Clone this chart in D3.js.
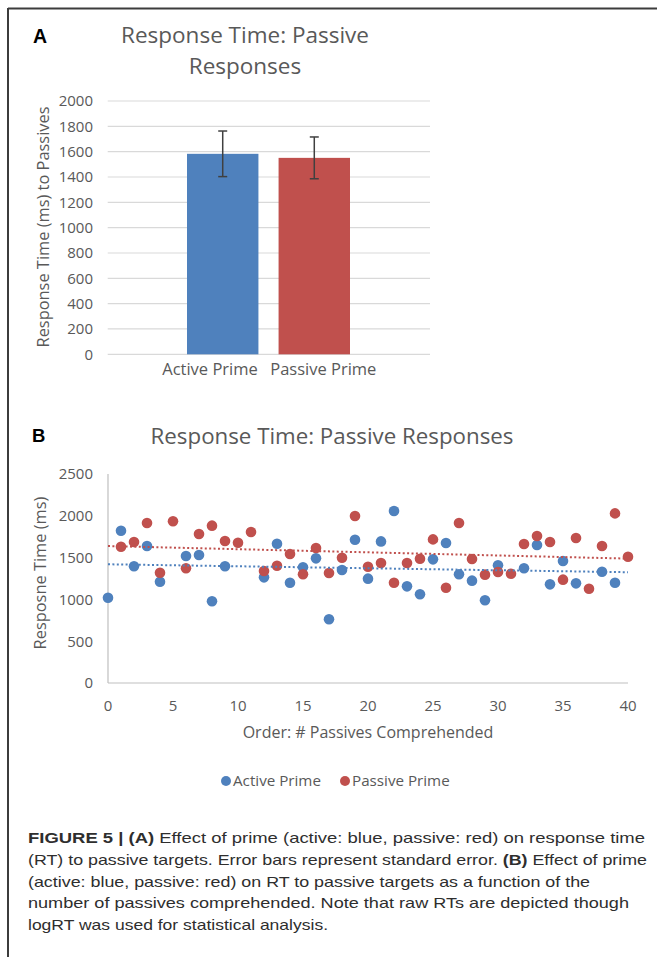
<!DOCTYPE html>
<html>
<head>
<meta charset="utf-8">
<script src="https://cdn.jsdelivr.net/npm/d3@7/dist/d3.min.js"></script>
<style>
  html, body { margin: 0; padding: 0; background: #fff; }
  svg { display: block; }
</style>
</head>
<body>
<div id="chart"></div>
<script>
// ---------- Panel A data ----------
const primeCategories = ["Active Prime", "Passive Prime"];
const meanRT = [1583, 1551];
const seRT = [180, 165];
const yTicksA = [0, 200, 400, 600, 800, 1000, 1200, 1400, 1600, 1800, 2000];

// ---------- Panel B data ----------
const order = [0,1,2,3,4,5,6,7,8,9,10,11,12,13,14,15,16,17,18,19,20,21,22,23,24,25,26,27,28,29,30,31,32,33,34,35,36,37,38,39,40];
const activeRT = [1020,1822,1396,1638,1212,null,1519,1531,977,1396,null,null,1264,1666,1200,1384,1491,762,1352,1714,1248,1694,2057,1156,1061,1479,1674,1300,1224,989,1408,null,1372,1650,1180,1459,1192,null,1331,1200,null];
const passiveRT = [null,1630,1686,1914,1319,1934,1372,1782,1882,1698,1678,1806,1339,1403,1543,1300,1615,1316,1499,1997,1391,1435,1200,1435,1487,1718,1140,1914,1483,1296,1327,1307,1662,1758,1686,1236,1734,1128,1638,2029,1511];
const trendX = [0, 40];
const activeTrend = [1420, 1325];
const passiveTrend = [1638, 1488];
const xTicksB = [0, 5, 10, 15, 20, 25, 30, 35, 40];
const yTicksB = [0, 500, 1000, 1500, 2000, 2500];
const seriesNames = ["Active Prime", "Passive Prime"];

const captionLines = [
  [["FIGURE 5 | (A)", true], [" Effect of prime (active: blue, passive: red) on response time", false]],
  [["(RT) to passive targets. Error bars represent standard error. ", false], ["(B)", true], [" Effect of prime", false]],
  [["(active: blue, passive: red) on RT to passive targets as a function of the", false]],
  [["number of passives comprehended. Note that raw RTs are depicted though", false]],
  [["logRT was used for statistical analysis.", false]]
];
const captionWidths = [617, 619, 562, 601, 300];

// ---------- Styles ----------
const BLUE = "#4f81bd", RED = "#c0504d";
const TXT = "#595959";
const FONT = "'Open Sans', 'Noto Sans', sans-serif";
const CAPFONT = "'Liberation Sans', Arial, sans-serif";

const svg = d3.select("#chart").append("svg")
  .attr("width", 657).attr("height", 957)
  .attr("viewBox", "0 0 657 957");

// frame (top + left)
svg.append("line").attr("x1", 8).attr("x2", 657).attr("y1", 8.5).attr("y2", 8.5)
  .attr("stroke", "#3c3c3c").attr("stroke-width", 2);
svg.append("line").attr("x1", 8).attr("x2", 8).attr("y1", 8).attr("y2", 957)
  .attr("stroke", "#3c3c3c").attr("stroke-width", 2);

// ================= Panel A =================
const gA = svg.append("g");
const yA = d3.scaleLinear().domain([0, 2000]).range([354.3, 101]);
const xA = d3.scaleBand().domain(primeCategories).range([187, 350]).paddingInner(0.22).paddingOuter(0);

gA.selectAll("line.grid").data(yTicksA).join("line")
  .attr("class", "grid")
  .attr("x1", 107.7).attr("x2", 430)
  .attr("y1", d => yA(d)).attr("y2", d => yA(d))
  .attr("stroke", "#d9d9d9").attr("stroke-width", 1.2);

gA.selectAll("text.ytick").data(yTicksA).join("text")
  .attr("class", "ytick")
  .attr("x", 93).attr("y", d => yA(d)).attr("dy", "0.36em")
  .attr("text-anchor", "end")
  .attr("font-family", FONT).attr("font-size", 15).attr("fill", TXT)
  .text(d => d);

gA.selectAll("rect.bar").data(primeCategories).join("rect")
  .attr("class", "bar")
  .attr("x", d => xA(d)).attr("width", xA.bandwidth())
  .attr("y", (d, i) => yA(meanRT[i]))
  .attr("height", (d, i) => yA(0) - yA(meanRT[i]))
  .attr("fill", (d, i) => i === 0 ? BLUE : RED);

// error bars
primeCategories.forEach((c, i) => {
  const cx = xA(c) + xA.bandwidth() / 2;
  const top = yA(meanRT[i] + seRT[i]), bot = yA(meanRT[i] - seRT[i]);
  gA.append("line").attr("x1", cx).attr("x2", cx).attr("y1", top).attr("y2", bot)
    .attr("stroke", "#404040").attr("stroke-width", 1.5);
  [top, bot].forEach(y => gA.append("line")
    .attr("x1", cx - 4.5).attr("x2", cx + 4.5).attr("y1", y).attr("y2", y)
    .attr("stroke", "#404040").attr("stroke-width", 1.5));
});

const labelShift = [-12.7, 9];
gA.selectAll("text.cat").data(primeCategories).join("text")
  .attr("class", "cat")
  .attr("x", (d, i) => xA(d) + xA.bandwidth() / 2 + labelShift[i])
  .attr("y", 375)
  .attr("text-anchor", "middle")
  .attr("font-family", FONT).attr("font-size", 16.5).attr("fill", TXT)
  .text(d => d);

gA.append("text")
  .attr("transform", "translate(49,227) rotate(-90)")
  .attr("text-anchor", "middle")
  .attr("font-family", FONT).attr("font-size", 16.4).attr("fill", TXT)
  .text("Response Time (ms) to Passives");

gA.append("text").attr("x", 245).attr("y", 43.3).attr("text-anchor", "middle")
  .attr("font-family", FONT).attr("font-size", 22.5).attr("fill", TXT)
  .text("Response Time: Passive");
gA.append("text").attr("x", 245).attr("y", 74).attr("text-anchor", "middle")
  .attr("font-family", FONT).attr("font-size", 22.5).attr("fill", TXT)
  .text("Responses");

gA.append("text").attr("x", 33).attr("y", 42.7)
  .attr("font-family", CAPFONT).attr("font-weight", "bold").attr("font-size", 19.5).attr("fill", "#000")
  .text("A");

// ================= Panel B =================
const gB = svg.append("g");
const xB = d3.scaleLinear().domain([0, 40]).range([108, 628]);
const yB = d3.scaleLinear().domain([0, 2500]).range([683, 474]);

gB.append("line").attr("x1", xB(0)).attr("x2", xB(0)).attr("y1", yB(2500)).attr("y2", yB(0))
  .attr("stroke", "#bfbfbf").attr("stroke-width", 1.2);
gB.append("line").attr("x1", xB(0)).attr("x2", xB(40)).attr("y1", yB(0)).attr("y2", yB(0))
  .attr("stroke", "#bfbfbf").attr("stroke-width", 1.2);

gB.selectAll("text.ytick").data(yTicksB).join("text")
  .attr("class", "ytick")
  .attr("x", 93).attr("y", d => yB(d)).attr("dy", "0.36em")
  .attr("text-anchor", "end")
  .attr("font-family", FONT).attr("font-size", 15).attr("fill", TXT)
  .text(d => d);

gB.selectAll("text.xtick").data(xTicksB).join("text")
  .attr("class", "xtick")
  .attr("x", d => xB(d)).attr("y", 711)
  .attr("text-anchor", "middle")
  .attr("font-family", FONT).attr("font-size", 15).attr("fill", TXT)
  .text(d => d);

const activePts = order.map((x, i) => ({x, y: activeRT[i]})).filter(d => d.y != null);
const passivePts = order.map((x, i) => ({x, y: passiveRT[i]})).filter(d => d.y != null);

gB.selectAll("circle.act").data(activePts).join("circle")
  .attr("class", "act")
  .attr("cx", d => xB(d.x)).attr("cy", d => yB(d.y)).attr("r", 5.3)
  .attr("fill", BLUE);
gB.selectAll("circle.pas").data(passivePts).join("circle")
  .attr("class", "pas")
  .attr("cx", d => xB(d.x)).attr("cy", d => yB(d.y)).attr("r", 5.3)
  .attr("fill", RED);

const line = d3.line().x(d => xB(d[0])).y(d => yB(d[1]));
gB.append("path").datum(trendX.map((x, i) => [x, activeTrend[i]]))
  .attr("d", line).attr("fill", "none").attr("stroke", BLUE)
  .attr("stroke-width", 2).attr("stroke-dasharray", "2,2.4");
gB.append("path").datum(trendX.map((x, i) => [x, passiveTrend[i]]))
  .attr("d", line).attr("fill", "none").attr("stroke", RED)
  .attr("stroke-width", 2).attr("stroke-dasharray", "2,2.4");

gB.append("text").attr("x", 368).attr("y", 738).attr("text-anchor", "middle")
  .attr("font-family", FONT).attr("font-size", 16).attr("fill", TXT)
  .text("Order: # Passives Comprehended");

gB.append("text")
  .attr("transform", "translate(46,573) rotate(-90)")
  .attr("text-anchor", "middle")
  .attr("font-family", FONT).attr("font-size", 16.4).attr("fill", TXT)
  .text("Resposne Time (ms)");

gB.append("text").attr("x", 332).attr("y", 444).attr("text-anchor", "middle")
  .attr("font-family", FONT).attr("font-size", 22.3).attr("fill", TXT)
  .text("Response Time: Passive Responses");

gB.append("text").attr("x", 32).attr("y", 441.7)
  .attr("font-family", CAPFONT).attr("font-weight", "bold").attr("font-size", 18.5).attr("fill", "#000")
  .text("B");

// legend
const legX = [226, 345];
seriesNames.forEach((n, i) => {
  gB.append("circle").attr("cx", legX[i]).attr("cy", 781).attr("r", 5)
    .attr("fill", i === 0 ? BLUE : RED);
  gB.append("text").attr("x", legX[i] + 7).attr("y", 781).attr("dy", "0.36em")
    .attr("font-family", FONT).attr("font-size", 15.2).attr("fill", TXT)
    .text(n);
});

// ================= Caption =================
const capBase = [843, 865, 887, 908, 930];
captionLines.forEach((parts, i) => {
  const t = svg.append("text").attr("x", 28).attr("y", capBase[i])
    .attr("font-family", CAPFONT).attr("font-size", 15).attr("fill", "#2e2e2e")
    .attr("textLength", captionWidths[i]).attr("lengthAdjust", "spacingAndGlyphs");
  parts.forEach(([s, b]) => {
    t.append("tspan").attr("font-weight", b ? "bold" : "normal").text(s);
  });
});
</script>
</body>
</html>
